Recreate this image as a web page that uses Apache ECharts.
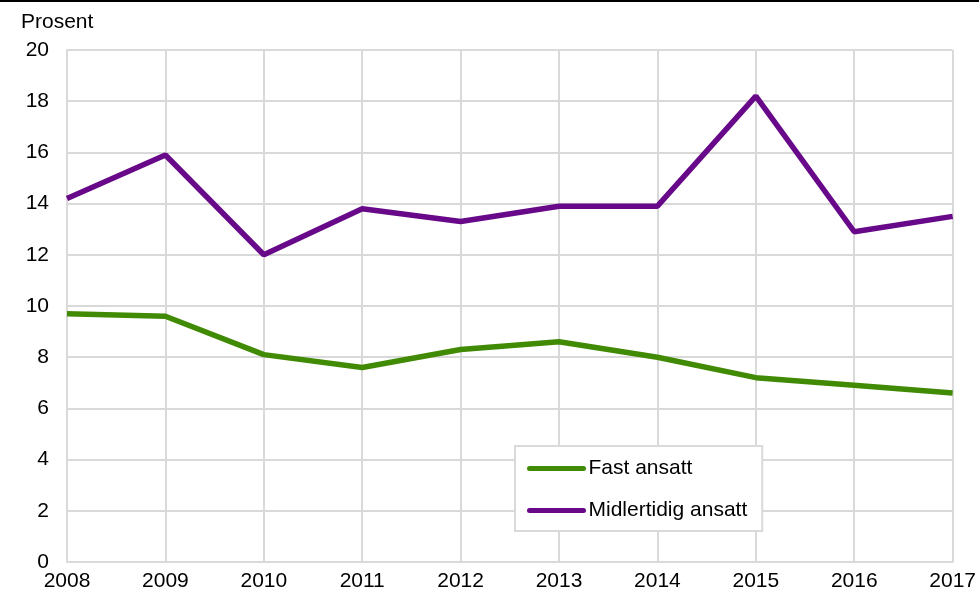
<!DOCTYPE html>
<html>
<head>
	<meta charset="utf-8">
	<title>Prosent</title>
	<script src="https://cdn.jsdelivr.net/npm/echarts@6/dist/echarts.min.js"></script>
	<style>
		html, body { margin: 0; padding: 0; background: #fff; }
		#main { width: 979px; height: 592px; }
	</style>
</head>
<body>
<div id="main"></div>
<script type="text/javascript">
	var years = ['2008', '2009', '2010', '2011', '2012', '2013', '2014', '2015', '2016', '2017'];
	var fastAnsatt = [9.7, 9.6, 8.1, 7.6, 8.3, 8.6, 8.0, 7.2, 6.9, 6.6];
	var midlertidigAnsatt = [14.2, 15.9, 12.0, 13.8, 13.3, 13.9, 13.9, 18.2, 12.9, 13.5];
	var seriesNames = ['Fast ansatt', 'Midlertidig ansatt'];
	var seriesColor = ['#418a04', '#68098a'];

	var fontFamily = '"Liberation Sans", Arial, sans-serif';
	var fontSize = 21;
	var gridColor = '#d9d9d9';

	var myChart = echarts.init(document.getElementById('main'));

	var option = {
		animation: false,
		title: {
			text: 'Prosent',
			left: 21,
			top: 12,
			padding: 0,
			textStyle: { fontFamily: fontFamily, fontSize: fontSize, fontWeight: 'normal', color: '#000' }
		},
		graphic: [{
			type: 'line',
			shape: { x1: 0, y1: 1, x2: 979, y2: 1 },
			style: { stroke: '#000', lineWidth: 2 }
		}],
		grid: { left: 67, right: 26, top: 50, bottom: 27 },
		legend: {
			orient: 'vertical',
			left: 515,
			top: 446,
			padding: [12, 15, 10, 12],
			borderColor: gridColor,
			borderWidth: 2,
			backgroundColor: '#fff',
			itemWidth: 54,
			itemHeight: 20,
			itemGap: 21,
			data: seriesNames,
			itemStyle: { opacity: 0 },
			lineStyle: { width: 5, cap: 'round' },
			textStyle: { fontFamily: fontFamily, fontSize: fontSize, color: '#000' }
		},
		xAxis: {
			type: 'category',
			boundaryGap: false,
			data: years,
			axisLine: { lineStyle: { color: gridColor, width: 2 } },
			axisTick: { show: false },
			axisLabel: { margin: 9, fontFamily: fontFamily, fontSize: fontSize, color: '#000' },
			splitLine: { show: true, lineStyle: { color: gridColor, width: 2 } }
		},
		yAxis: {
			type: 'value',
			min: 0,
			max: 20,
			interval: 2,
			axisLine: { show: true, lineStyle: { color: gridColor, width: 2 } },
			axisTick: { show: false },
			axisLabel: { margin: 18, fontFamily: fontFamily, fontSize: fontSize, color: '#000' },
			splitLine: { show: true, lineStyle: { color: gridColor, width: 2 } }
		},
		series: [
			{
				name: seriesNames[0],
				type: 'line',
				symbol: 'none',
				data: fastAnsatt,
				itemStyle: { color: seriesColor[0] },
				lineStyle: { color: seriesColor[0], width: 5.5 },
				z: 3
			},
			{
				name: seriesNames[1],
				type: 'line',
				symbol: 'none',
				data: midlertidigAnsatt,
				itemStyle: { color: seriesColor[1] },
				lineStyle: { color: seriesColor[1], width: 5.5 },
				z: 3
			}
		]
	};
	myChart.setOption(option);
</script>
</body>
</html>
